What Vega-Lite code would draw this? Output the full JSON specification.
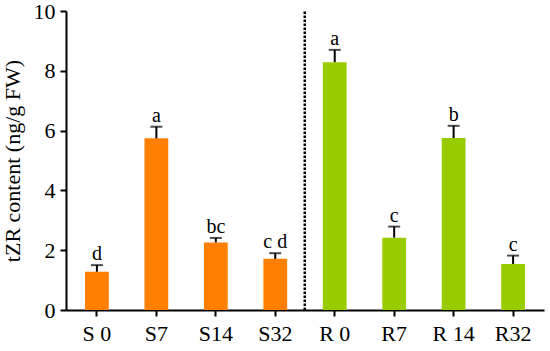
{
  "$schema": "https://vega.github.io/schema/vega-lite/v6.json",
  "width": 478,
  "height": 299,
  "autosize": {"type": "none"},
  "padding": {"left": 66, "top": 11, "right": 6, "bottom": 41},
  "background": "white",
  "config": {
    "view": {"stroke": null},
    "font": "Liberation Serif",
    "axis": {
      "labelFont": "Liberation Serif",
      "titleFont": "Liberation Serif",
      "labelColor": "black",
      "titleColor": "black",
      "domainColor": "black",
      "tickColor": "black",
      "domainWidth": 2,
      "tickWidth": 2,
      "tickSize": 6,
      "grid": false,
      "labelFontSize": 22,
      "titleFontWeight": "normal"
    }
  },
  "data": {
    "values": [
      {"group": "S 0", "type": "S", "value": 1.28, "upper": 1.50, "letter": "d"},
      {"group": "S7", "type": "S", "value": 5.74, "upper": 6.13, "letter": "a"},
      {"group": "S14", "type": "S", "value": 2.26, "upper": 2.41, "letter": "bc"},
      {"group": "S32", "type": "S", "value": 1.71, "upper": 1.90, "letter": "c d"},
      {"group": "R 0", "type": "R", "value": 8.29, "upper": 8.70, "letter": "a"},
      {"group": "R7", "type": "R", "value": 2.42, "upper": 2.79, "letter": "c"},
      {"group": "R 14", "type": "R", "value": 5.75, "upper": 6.16, "letter": "b"},
      {"group": "R32", "type": "R", "value": 1.54, "upper": 1.82, "letter": "c"}
    ]
  },
  "encoding": {
    "x": {
      "field": "group",
      "type": "nominal",
      "sort": null,
      "scale": {"paddingInner": 0.6, "paddingOuter": 0.32},
      "axis": {"title": null, "labelAngle": 0, "labelPadding": 7, "labelFont": "Liberation Serif", "labelFontSize": 22}
    }
  },
  "layer": [
    {
      "mark": {"type": "bar"},
      "encoding": {
        "y": {
          "field": "value",
          "type": "quantitative",
          "scale": {"domain": [0, 10], "nice": false},
          "axis": {
            "title": "tZR content (ng/g FW)",
            "titleFont": "Liberation Serif",
            "titleFontSize": 22,
            "titleFontWeight": "normal",
            "titlePadding": 9,
            "labelFont": "Liberation Serif",
            "labelFontSize": 22,
            "values": [0, 1, 2, 3, 4, 5, 6, 7, 8, 9, 10],
            "labelExpr": "datum.value % 2 == 0 ? datum.label : ''",
            "labelPadding": 5
          }
        },
        "color": {
          "field": "type",
          "type": "nominal",
          "scale": {"domain": ["S", "R"], "range": ["#FF8000", "#99CC00"]},
          "legend": null
        }
      }
    },
    {
      "mark": {"type": "rule", "color": "black", "strokeWidth": 2},
      "encoding": {
        "y": {"field": "value", "type": "quantitative"},
        "y2": {"field": "upper"}
      }
    },
    {
      "mark": {"type": "tick", "color": "black", "thickness": 2, "size": 12, "orient": "horizontal"},
      "encoding": {
        "y": {"field": "upper", "type": "quantitative"}
      }
    },
    {
      "mark": {"type": "text", "font": "Liberation Serif", "fontSize": 20, "color": "black", "baseline": "alphabetic", "dy": -5},
      "encoding": {
        "y": {"field": "upper", "type": "quantitative"},
        "text": {"field": "letter"}
      }
    },
    {
      "data": {"values": [{"group": "S32", "lo": 0, "hi": 10}]},
      "mark": {"type": "rule", "color": "black", "strokeWidth": 2.5, "strokeDash": [2.5, 1.5]},
      "encoding": {
        "x": {"field": "group", "type": "nominal", "bandPosition": 1.74},
        "y": {"field": "lo", "type": "quantitative"},
        "y2": {"field": "hi"}
      }
    }
  ]
}
